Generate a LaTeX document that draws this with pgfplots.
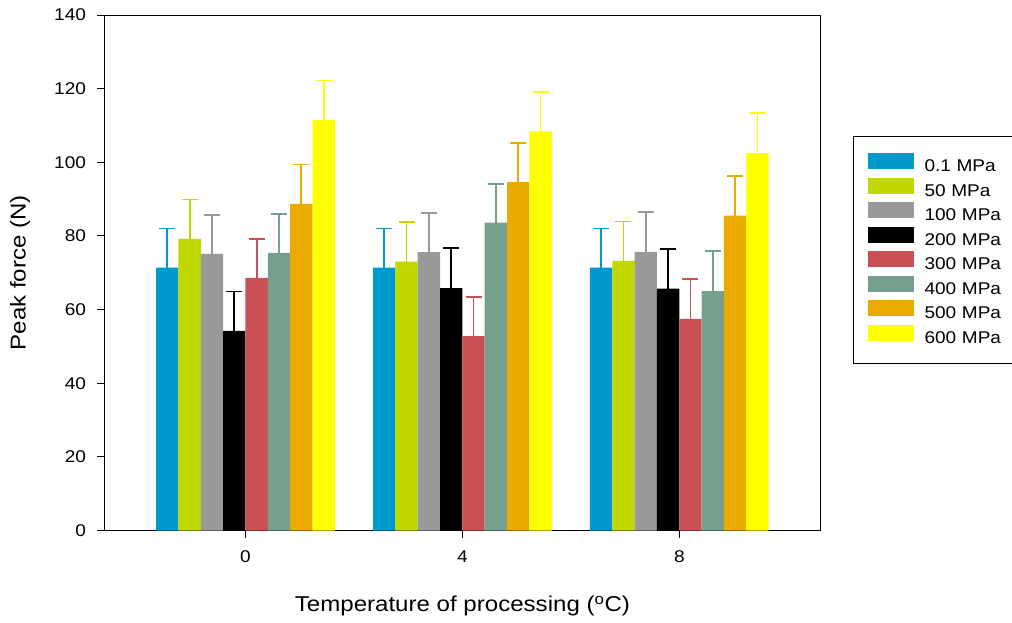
\documentclass[border=0pt]{standalone}
\usepackage{fontspec}
\setmainfont[FakeStretch=1.12]{Liberation Sans}
\usepackage{pgfplots}
\pgfplotsset{compat=1.18}

\definecolor{cA}{RGB}{0,153,204}
\definecolor{cB}{RGB}{192,215,0}
\definecolor{cC}{RGB}{153,153,153}
\definecolor{cD}{RGB}{0,0,0}
\definecolor{cE}{RGB}{203,80,85}
\definecolor{cF}{RGB}{116,160,141}
\definecolor{cG}{RGB}{235,170,0}
\definecolor{cH}{RGB}{255,255,0}

\pgfplotsset{
  pbar/.style={
    fill=#1, draw=none,
    /pgfplots/legend image code/.code={\fill[fill=#1] (0pt,-2pt) rectangle (46pt,14pt);},
    error bars/.cd, y dir=plus, y explicit,
    error bar style={draw=#1, line width=1.8pt},
    error mark options={draw=#1, rotate=90, mark size=8pt, line width=1.8pt},
  },
}

\begin{document}
\begin{tikzpicture}
\useasboundingbox (-104.5pt,-91.5pt) rectangle (907.5pt,530.5pt);
\begin{axis}[
  at={(0,0)}, anchor=south west,
  scale only axis,
  width=715.8pt, height=515.5pt,
  ybar=0pt, bar width=0.412,
  xmin=-2.6, xmax=10.6,
  ymin=0, ymax=140,
  xtick={0,4,8},
  ytick={0,20,...,140},
  xtick pos=bottom, ytick pos=left,
  tick align=outside,
  major tick length=7pt,
  every tick/.style={black, line width=1pt},
  axis line style={line width=1pt},
  /pgf/number format/assume math mode=true,
  tick label style={font=\fontsize{17}{17}\selectfont},
  yticklabel style={xshift=-8pt},
  xticklabel style={yshift=-10pt},
  label style={font=\fontsize{21.5}{21.5}\selectfont},
  xlabel={Temperature of processing (\textsuperscript{o}C)},
  ylabel={Peak force (N)},
  xlabel style={at={([yshift=-75.5pt]axis description cs:0.5,0)}, anchor=center},
  ylabel style={at={([xshift=-84.5pt]axis description cs:0,0.5)}, anchor=center},
  legend style={
    at={(axis description cs:1.0457,0.7653)}, anchor=north west,
    draw=black, line width=1pt,
    inner xsep=14pt, inner ysep=17pt,
    row sep=2.5pt,
    font=\fontsize{17}{17}\selectfont,
    nodes={inner sep=0pt, text height=12.5pt, text depth=3.5pt, text width=86pt, align=left},
  },
  legend cell align=left,
  legend columns=1,
  legend style={column sep=11pt},
]
\addplot[pbar=cA] coordinates {(0,71.4) +- (0,10.6) (4,71.4) +- (0,10.6) (8,71.4) +- (0,10.6)};
\addplot[pbar=cB] coordinates {(0,79.2) +- (0,10.7) (4,73.0) +- (0,10.7) (8,73.2) +- (0,10.7)};
\addplot[pbar=cC] coordinates {(0,75.1) +- (0,10.6) (4,75.6) +- (0,10.7) (8,75.7) +- (0,10.7)};
\addplot[pbar=cD] coordinates {(0,54.2) +- (0,10.7) (4,65.8) +- (0,10.9) (8,65.7) +- (0,10.8)};
\addplot[pbar=cE] coordinates {(0,68.6) +- (0,10.6) (4,52.8) +- (0,10.7) (8,57.5) +- (0,10.8)};
\addplot[pbar=cF] coordinates {(0,75.4) +- (0,10.6) (4,83.6) +- (0,10.6) (8,65.0) +- (0,10.8)};
\addplot[pbar=cG] coordinates {(0,88.7) +- (0,10.7) (4,94.6) +- (0,10.7) (8,85.5) +- (0,10.7)};
\addplot[pbar=cH] coordinates {(0,111.5) +- (0,10.7) (4,108.4) +- (0,10.7) (8,102.5) +- (0,10.9)};
\legend{0.1 MPa, 50 MPa, 100 MPa, 200 MPa, 300 MPa, 400 MPa, 500 MPa, 600 MPa}
\end{axis}
\end{tikzpicture}
\end{document}
